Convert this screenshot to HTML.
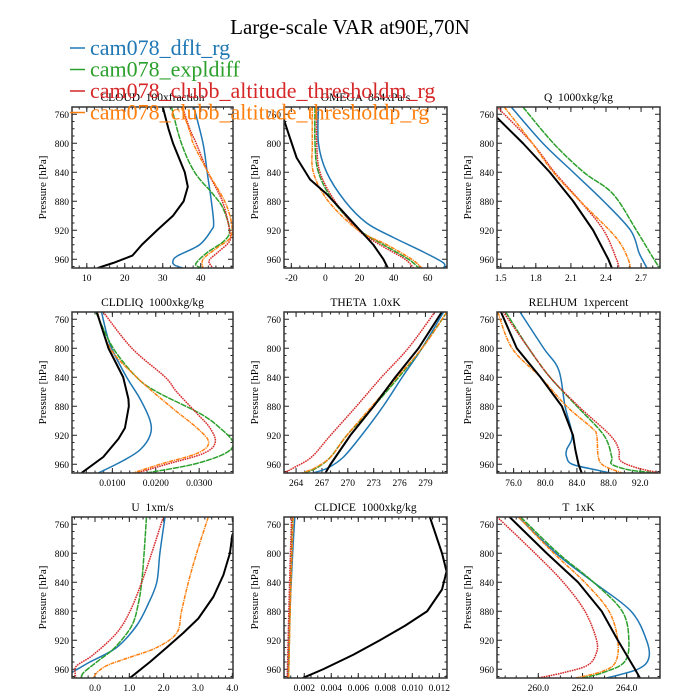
<!DOCTYPE html>
<html><head><meta charset="utf-8">
<style>
html,body{margin:0;padding:0;background:#fff;}
svg{display:block;font-family:"Liberation Serif",serif;}
text{white-space:pre;}
</style></head>
<body>
<svg id="chart" width="700" height="700" viewBox="0 0 700 700" xmlns="http://www.w3.org/2000/svg">
<text x="350" y="34" text-anchor="middle" font-size="21">Large-scale VAR at90E,70N</text>
<g id="panels"></g>
<g id="legend"></g>
</svg>
<script>
const seriesNames = ["cam078_dflt_rg","cam078_expldiff","cam078_clubb_altitude_thresholdm_rg","cam078_clubb_altitude_thresholdp_rg","obs"];
const colors = ["#1f77b4","#2ca02c","#d62728","#ff7f0e","#000000"];
const dashes = ["", "6,0.8", "1.6,0.8", "4,0.8,1.2,0.8", ""];
const widths = [1.5,1.5,1.5,1.5,2];
const panelTitles = ["CLOUD  100xfraction","OMEGA  864xPa/s","Q  1000xkg/kg","CLDLIQ  1000xkg/kg","THETA  1.0xK","RELHUM  1xpercent","U  1xm/s","CLDICE  1000xkg/kg","T  1xK"];
const yTicks = [760,800,840,880,920,960];

const cloudBlue=[[750,38.2],[800,40.6],[840,41.7],[880,42.8],[910,43.4],[920,42.8],[940,39.7],[955,34],[962,32.7],[968,33.1],[972,35.3]];
const cloudGreen=[[750,32.3],[800,34.9],[840,38.4],[870,43.2],[890,45.9],[920,47.6],[935,46.1],[950,41.9],[962,39.3],[968,38.7],[972,40.2]];
const cloudRed=[[750,35.2],[780,37.1],[800,38.8],[840,41.9],[880,45.7],[920,47.6],[935,47.6],[950,44.6],[962,42.2],[972,43.2]];
const cloudOrange=[[750,34.9],[790,37.5],[800,38],[840,41.9],[880,46.3],[910,48.1],[930,47.8],[945,44.1],[960,40.6],[972,40.6]];
const cloudBlack=[[750,30],[780,31.5],[800,32.7],[840,35.8],[860,36.6],[880,35.5],[900,32.7],[920,28.5],[940,24.5],[955,22],[965,17],[972,12.9]];

const omegaBlue=[[750,-4.1],[800,-4.1],[840,0.7],[880,11.5],[910,24.2],[930,39.9],[950,57.5],[965,69.2],[972,69.2]];
const omegaGreen=[[750,-6.1],[800,-6.1],[840,-4.1],[880,4.7],[920,20.3],[940,34],[960,48.7],[972,54.6]];
const omegaRed=[[750,-5.1],[800,-5.1],[840,-3.2],[880,5.6],[920,19.3],[940,32],[960,46.7],[972,51.6]];
const omegaOrange=[[750,-7.7],[800,-7.7],[840,-7.1],[880,1.7],[920,19.3],[940,36],[960,50.6],[972,56.5]];
const omegaBlack=[[750,-27],[770,-24],[790,-21.2],[820,-16.9],[850,-9],[870,0.7],[900,12.5],[920,20.3],[940,28.1],[960,34],[972,36.6]];

const qBlue=[[750,1.59],[800,1.86],[840,2.12],[880,2.38],[920,2.61],[950,2.68],[960,2.71],[972,2.75]];
const qGreen=[[750,1.69],[800,1.95],[840,2.21],[870,2.46],[920,2.66],[960,2.81],[972,2.86]];
const qRed=[[750,1.47],[755,1.5],[800,1.77],[840,1.96],[880,2.18],[920,2.38],[960,2.49],[972,2.51]];
const qOrange=[[750,1.53],[800,1.77],[840,1.95],[880,2.18],[920,2.43],[940,2.53],[960,2.59],[972,2.61]];
const qBlack=[[760,1.45],[765,1.47],[800,1.69],[840,1.92],[880,2.12],[920,2.29],[960,2.42],[972,2.45]];

const liqBlue=[[750,0.0075],[780,0.0087],[800,0.0098],[840,0.0133],[870,0.0164],[900,0.0187],[920,0.0187],[940,0.0164],[955,0.0125],[972,0.0068]];
const liqGreen=[[750,0.0062],[800,0.0102],[840,0.0156],[860,0.0202],[890,0.0302],[910,0.0348],[930,0.0378],[945,0.036],[960,0.0287],[972,0.0179]];
const liqRed=[[750,0.0079],[800,0.0145],[840,0.0222],[860,0.0248],[890,0.0295],[910,0.0325],[930,0.0337],[945,0.031],[960,0.0225],[972,0.0156]];
const liqOrange=[[750,0.0065],[800,0.0095],[840,0.0156],[880,0.0233],[910,0.0295],[930,0.0322],[945,0.0295],[960,0.021],[972,0.0148]];
const liqBlack=[[750,0.0064],[800,0.0091],[840,0.0125],[870,0.0137],[880,0.0138],[910,0.0129],[925,0.0114],[950,0.0079],[972,0.0029]];

const thBlue=[[750,281.1],[800,278.6],[840,276.3],[880,274.1],[920,271.6],[950,269.5],[965,267.7],[972,266]];
const thGreen=[[750,281.5],[800,278.6],[840,275.9],[880,273],[920,269.9],[950,268],[965,266.4],[972,264.9]];
const thRed=[[750,280.1],[800,277],[840,273.9],[880,271],[920,268],[950,265.8],[965,263.7],[972,262.6]];
const thOrange=[[750,281.5],[800,278.6],[840,275.7],[880,272.8],[920,269.9],[950,268],[965,266.2],[972,264.7]];
const thBlack=[[750,280.9],[800,278.2],[840,275.5],[880,273],[920,270.3],[960,268],[972,267.4]];

const rhBlue=[[750,76.8],[800,79.8],[830,81.7],[880,82.5],[920,83.4],[940,82.7],[950,82.7],[960,83.4],[968,86.5],[972,88.2]];
const rhGreen=[[750,75],[800,77.9],[840,80.6],[880,84],[920,87.4],[950,88.4],[960,88.4],[968,90.7],[972,94.1]];
const rhRed=[[750,74.7],[800,77.9],[840,80.6],[880,84.2],[920,88.2],[940,89.3],[955,89.5],[965,91.6],[972,94.5]];
const rhOrange=[[750,74],[800,75.8],[840,79.4],[880,82.7],[910,85.9],[920,86.5],[950,86.7],[962,87.4],[972,89.7]];
const rhBlack=[[750,74.4],[800,76.4],[840,79.4],[880,82.1],[920,83.5],[940,83.8],[960,84.2],[972,84.6]];

const uBlue=[[750,2.04],[800,1.89],[840,1.8],[870,1.55],[900,1.21],[930,0.63],[950,-0.15],[958,-0.44],[965,-0.68],[972,-0.75]];
const uGreen=[[750,1.5],[800,1.43],[840,1.36],[870,1.26],[900,1.07],[930,0.58],[950,0.05],[965,-0.34],[972,-0.39]];
const uRed=[[750,1.99],[800,1.65],[840,1.36],[880,1.02],[910,0.63],[940,-0.05],[955,-0.53],[965,-0.58],[972,-0.55]];
const uOrange=[[750,3.3],[800,2.96],[840,2.72],[880,2.52],[910,2.38],[930,1.8],[945,0.92],[955,0.34],[965,0.05],[972,-0.05]];
const uBlack=[[765,4.1],[775,4.0],[800,3.93],[830,3.74],[860,3.45],[890,3.01],[910,2.57],[930,2.09],[950,1.6],[972,1.02]];

const iceBlue=[[750,0.0013],[800,0.00114],[880,0.00094],[960,0.00081],[972,0.00074]];
const iceGreen=[[750,0.00114],[850,0.00098],[972,0.00084]];
const iceRed=[[750,0.00106],[850,0.0009],[972,0.00074]];
const iceOrange=[[750,0.00118],[850,0.001],[972,0.00084]];
const iceBlack=[[750,0.0113],[800,0.0122],[825,0.01254],[850,0.0122],[880,0.0111],[900,0.00946],[920,0.0076],[940,0.00563],[960,0.0034],[972,0.0019]];

const tBlue=[[750,259.1],[800,260.8],[840,262.5],[880,264.2],[920,264.9],[945,265],[960,264.5],[972,263.1]];
const tGreen=[[750,259.2],[800,260.9],[840,262.5],[880,263.8],[920,264.1],[950,263.9],[965,262.9],[972,262]];
const tRed=[[750,258.14],[800,259.85],[840,261.13],[880,262.11],[920,262.64],[940,262.6],[955,262.2],[965,261.1],[972,260]];
const tOrange=[[750,259.1],[800,260.7],[840,262.1],[880,263.2],[920,263.6],[950,263.5],[963,262.9],[972,261.7]];
const tBlack=[[750,258.7],[800,260.38],[840,261.8],[880,262.87],[920,263.6],[960,264.38],[972,264.6]];

const panelSeries=[
 [cloudBlue,cloudGreen,cloudRed,cloudOrange,cloudBlack],
 [omegaBlue,omegaGreen,omegaRed,omegaOrange,omegaBlack],
 [qBlue,qGreen,qRed,qOrange,qBlack],
 [liqBlue,liqGreen,liqRed,liqOrange,liqBlack],
 [thBlue,thGreen,thRed,thOrange,thBlack],
 [rhBlue,rhGreen,rhRed,rhOrange,rhBlack],
 [uBlue,uGreen,uRed,uOrange,uBlack],
 [iceBlue,iceGreen,iceRed,iceOrange,iceBlack],
 [tBlue,tGreen,tRed,tOrange,tBlack]
];
const xDomains=[[6.1,48.5],[-24.3,71.3],[1.468,2.862],[0.0007,0.0378],[262.6,281.5],[73.9,94.5],[-0.67,4.02],[0.0005,0.01257],[258.13,265.51]];
const xTickVals=[[10,20,30,40],[-20,0,20,40,60],[1.5,1.8,2.1,2.4,2.7],[0.01,0.02,0.03],[264,267,270,273,276,279],[76,80,84,88,92],[0,1,2,3,4],[0.002,0.004,0.006,0.008,0.010,0.012],[260,262,264]];
const xTickLabels=[["10","20","30","40"],["-20","0","20","40","60"],["1.5","1.8","2.1","2.4","2.7"],["0.0100","0.0200","0.0300"],["264","267","270","273","276","279"],["76.0","80.0","84.0","88.0","92.0"],["0.0","1.0","2.0","3.0","4.0"],["0.002","0.004","0.006","0.008","0.010","0.012"],["260.0","262.0","264.0"]];
const xMinorStep=[2,5,0.1,0.002,1,1,0.2,0.0005,0.5];

const NS="http://www.w3.org/2000/svg";
const colL=[72,284,497], colW=[161,163,163], rowT=[107,312,517], H=161;
const pTop=750, pBot=750+H/0.725;
const root=document.getElementById('panels');
function mk(tag,attrs,parent){const e=document.createElementNS(NS,tag);for(const k in attrs)e.setAttribute(k,attrs[k]);parent.appendChild(e);return e;}
function smoothPath(pts){
  let d='M'+pts[0][0].toFixed(2)+','+pts[0][1].toFixed(2);
  for(let i=0;i<pts.length-1;i++){
    const p0=pts[Math.max(0,i-1)],p1=pts[i],p2=pts[i+1],p3=pts[Math.min(pts.length-1,i+2)];
    const c1x=p1[0]+(p2[0]-p0[0])/6,c1y=p1[1]+(p2[1]-p0[1])/6;
    const c2x=p2[0]-(p3[0]-p1[0])/6,c2y=p2[1]-(p3[1]-p1[1])/6;
    d+=` C${c1x.toFixed(2)},${c1y.toFixed(2)} ${c2x.toFixed(2)},${c2y.toFixed(2)} ${p2[0].toFixed(2)},${p2[1].toFixed(2)}`;
  }
  return d;
}

for(let i=0;i<9;i++){
  const L=colL[i%3], W=colW[i%3], T=rowT[Math.floor(i/3)];
  const [x0,x1]=xDomains[i];
  const xs=v=>L+(v-x0)/(x1-x0)*W;
  const ys=p=>T+(p-pTop)/(pBot-pTop)*H;
  const g=mk('g',{},root);
  
  
  const t=mk('text',{x:L+W/2,y:T-6,'text-anchor':'middle','font-size':'11.5'},g);
  t.textContent=panelTitles[i];
  
  
  const yl=mk('text',{transform:`translate(${L-26},${T+H/2}) rotate(-90)`,'text-anchor':'middle','font-size':'11'},g);
  yl.textContent='Pressure [hPa]';
  
  
  const cid='clip'+i;
  const cp=mk('clipPath',{id:cid},g); mk('rect',{x:L,y:T,width:W,height:H},cp);
  for(let p=760;p<=970;p+=10){
    const y=ys(p), major=yTicks.includes(p), len=major?5:2.5;
    mk('line',{x1:L,x2:L+len,y1:y,y2:y,stroke:'#222','stroke-width':1},g);
    mk('line',{x1:L+W,x2:L+W-len,y1:y,y2:y,stroke:'#222','stroke-width':1},g);
    if(major){const tl=mk('text',{x:L-3,y:y+3.5,'text-anchor':'end','font-size':'9.5'},g);tl.textContent=p;
      
      }
  }
  const ms=xMinorStep[i];
  for(let v=Math.ceil(x0/ms)*ms; v<=x1; v+=ms){
    const x=xs(v);
    mk('line',{x1:x,x2:x,y1:T+H,y2:T+H-2.5,stroke:'#222','stroke-width':1},g);
    mk('line',{x1:x,x2:x,y1:T,y2:T+2.5,stroke:'#222','stroke-width':1},g);
  }
  xTickVals[i].forEach((v,k)=>{
    const x=xs(v);
    mk('line',{x1:x,x2:x,y1:T+H,y2:T+H-5,stroke:'#222','stroke-width':1},g);
    mk('line',{x1:x,x2:x,y1:T,y2:T+5,stroke:'#222','stroke-width':1},g);
    const tl=mk('text',{x:x,y:T+H+13,'text-anchor':'middle','font-size':'9.5'},g);
    tl.textContent=xTickLabels[i][k];
    
    
  });
  const sg=mk('g',{'clip-path':`url(#${cid})`},g);
  panelSeries[i].forEach((s,k)=>{
    const pts=s.map(pt=>[xs(pt[1]),ys(pt[0])]);
    const d=(k===4)?pts.map((q,j)=>(j?'L':'M')+q[0].toFixed(2)+','+q[1].toFixed(2)).join(' '):smoothPath(pts);
    const path=mk('path',{d:d,fill:'none',stroke:colors[k],'stroke-width':widths[k],'stroke-linejoin':'round'},sg);
    if(dashes[k])path.setAttribute('stroke-dasharray',dashes[k]);
    
    
  });
  const fr=mk('rect',{x:L,y:T,width:W,height:H,fill:'none',stroke:'#333','stroke-width':1.5},g);
  
  
}
const lg=document.getElementById('legend');
for(let k=0;k<4;k++){
  const y=48+k*21.5;
  const ln=mk('line',{x1:70,x2:85,y1:y,y2:y,stroke:colors[k],'stroke-width':1.5},lg);
  
  
  const tx=mk('text',{x:90,y:y+7,'font-size':'22',fill:colors[k]},lg);
  tx.textContent=seriesNames[k];
  
  
}
</script>
</body></html>
